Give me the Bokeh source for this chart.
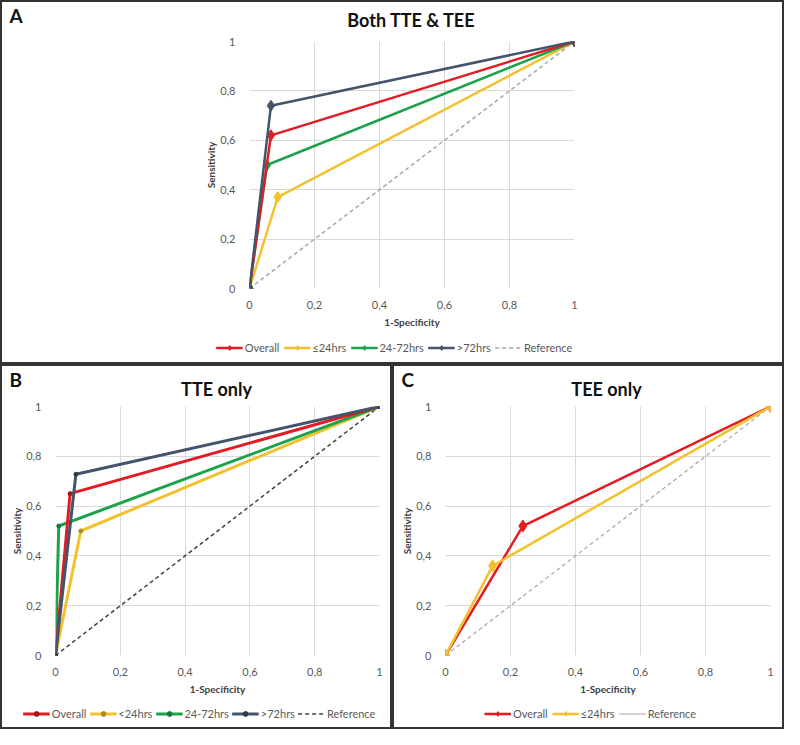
from bokeh.plotting import figure
from bokeh.layouts import column, row
from bokeh.models import (Range1d, FixedTicker, CustomJSTickFormatter, Legend,
                          LegendItem, Label)
from bokeh.embed import file_html
from bokeh.resources import INLINE

# ---------------- data ----------------
ticks = [0, 0.2, 0.4, 0.6, 0.8, 1.0]

# Panel A: Both TTE & TEE
a_overall_x = [0, 0.066, 1]
a_overall_y = [0, 0.62, 1]
a_le24_x = [0, 0.087, 1]
a_le24_y = [0, 0.37, 1]
a_h2472_x = [0, 0.054, 1]
a_h2472_y = [0, 0.50, 1]
a_gt72_x = [0, 0.066, 1]
a_gt72_y = [0, 0.74, 1]

# Panel B: TTE only
b_overall_x = [0, 0.045, 1]
b_overall_y = [0, 0.65, 1]
b_lt24_x = [0, 0.078, 1]
b_lt24_y = [0, 0.50, 1]
b_h2472_x = [0, 0.010, 1]
b_h2472_y = [0, 0.52, 1]
b_gt72_x = [0, 0.063, 1]
b_gt72_y = [0, 0.728, 1]

# Panel C: TEE only
c_overall_x = [0, 0.238, 1]
c_overall_y = [0, 0.52, 1]
c_le24_x = [0, 0.145, 1]
c_le24_y = [0, 0.36, 1]

ref_x = [0, 1]
ref_y = [0, 1]

RED = "#E31B23"
YEL = "#F2C12E"
GRN = "#1BA34B"
SLT = "#44546A"
FONT = "Lato"

fmt = CustomJSTickFormatter(code="""
  var v = Math.round(tick*10)/10;
  return v.toString().replace('.', ',');
""")

BORDER = ":host { outline: 2px solid #333333; outline-offset: -2px; }"


def clear(p):
    p.outline_line_color = None
    p.background_fill_alpha = 0
    p.border_fill_alpha = 0


def bare(width, height, ml=0, mr=0, xr=(0, 1)):
    p = figure(width=width, height=height, output_backend="svg", toolbar_location=None,
               x_axis_location=None, y_axis_location=None, min_border=0,
               min_border_left=ml, min_border_right=mr, frame_align=False,
               x_range=Range1d(*xr), y_range=Range1d(0, 1))
    p.grid.visible = False
    clear(p)
    return p


def header(width, height, title, letter, title_cx, title_cy, letter_cy):
    p = bare(width, height)
    p.add_layout(Label(x=title_cx, y=height - title_cy, x_units="screen", y_units="screen",
                       text=title, text_font=FONT, text_font_size="18px",
                       text_font_style="bold", text_color="#111111",
                       text_align="center", text_baseline="middle"))
    p.add_layout(Label(x=9, y=height - letter_cy, x_units="screen", y_units="screen",
                       text=letter, text_font=FONT, text_font_size="19px",
                       text_font_style="bold", text_color="#111111",
                       text_align="left", text_baseline="middle"))
    return p


def main(width, height, ml, mr, mt, mb):
    p = figure(width=width, height=height, output_backend="svg", toolbar_location=None,
               x_range=Range1d(0, 1), y_range=Range1d(0, 1), frame_align=False,
               min_border_left=ml, min_border_right=mr, min_border_top=mt,
               min_border_bottom=mb)
    clear(p)
    for ax in (p.xaxis[0], p.yaxis[0]):
        ax.ticker = FixedTicker(ticks=ticks)
        ax.formatter = fmt
        ax.axis_line_color = None
        ax.major_tick_line_color = None
        ax.minor_tick_line_color = None
        ax.major_label_text_font = FONT
        ax.major_label_text_font_size = "11px"
        ax.major_label_text_color = "#595959"
        ax.axis_label_text_font = FONT
        ax.axis_label_text_font_size = "10px"
        ax.axis_label_text_font_style = "bold"
        ax.axis_label_text_color = "#404040"
    p.xaxis[0].axis_label = "1-Specificity"
    p.xaxis[0].axis_label_standoff = 4
    p.xaxis[0].major_label_standoff = 6
    p.yaxis[0].axis_label = "Sensitivity"
    p.yaxis[0].axis_label_standoff = 0
    p.yaxis[0].major_label_standoff = 8
    for g in (p.xgrid[0], p.ygrid[0]):
        g.ticker = FixedTicker(ticks=ticks)
        g.grid_line_color = "#D9D9D9"
        g.grid_line_width = 1
    return p


def legend_fig(width, height, ml, entries, spacing):
    """entries: (label, xs, ys, color, line_width, dash, marker, marker_color, marker_size)
    The series are plotted outside the visible range; only their legend swatches show."""
    p = bare(width, height, ml=ml, xr=(2, 3))
    items = []
    for label, xs, ys, color, lw, dash, marker, mcolor, msize in entries:
        rs = [p.line(xs, ys, line_color=color, line_width=lw, line_dash=dash)]
        if marker is not None:
            rs.append(p.scatter(xs, ys, marker=marker, size=msize, color=mcolor))
        items.append(LegendItem(label=label, renderers=rs))
    lg = Legend(items=items, orientation="horizontal", location="center")
    lg.label_text_font = FONT
    lg.label_text_font_size = "11px"
    lg.label_text_color = "#595959"
    lg.glyph_width = 27
    lg.glyph_height = 12
    lg.label_standoff = 2
    lg.spacing = spacing
    lg.padding = 0
    lg.margin = 0
    lg.border_line_color = None
    lg.background_fill_alpha = 0
    p.add_layout(lg, "center")
    return p


# ---------------- Panel A ----------------
ha = header(784, 30, "Both TTE & TEE", "A", 411, 19.5, 14.5)
pa = main(784, 300, 249, 210, 11, 39)
pa.line(ref_x, ref_y, line_color="#A6A6A6", line_width=1.5, line_dash="4 3")
pa.line(a_le24_x, a_le24_y, line_color=YEL, line_width=2.5)
pa.scatter(a_le24_x, a_le24_y, marker="diamond", size=11, color=YEL)
pa.line(a_h2472_x, a_h2472_y, line_color=GRN, line_width=2.5)
pa.scatter(a_h2472_x, a_h2472_y, marker="diamond", size=11, color=GRN)
pa.line(a_overall_x, a_overall_y, line_color=RED, line_width=2.5)
pa.scatter(a_overall_x, a_overall_y, marker="diamond", size=11, color=RED)
pa.line(a_gt72_x, a_gt72_y, line_color=SLT, line_width=2.5)
pa.scatter(a_gt72_x, a_gt72_y, marker="diamond", size=11, color=SLT)
la = legend_fig(784, 34, 4, [
    ("Overall", a_overall_x, a_overall_y, RED, 2.5, "solid", "diamond", RED, 10),
    ("≤24hrs", a_le24_x, a_le24_y, YEL, 2.5, "solid", "diamond", YEL, 10),
    ("24-72hrs", a_h2472_x, a_h2472_y, GRN, 2.5, "solid", "diamond", GRN, 10),
    (">72hrs", a_gt72_x, a_gt72_y, SLT, 2.5, "solid", "diamond", SLT, 10),
    ("Reference", ref_x, ref_y, "#A6A6A6", 1.5, "4 3", None, None, None),
], 4)
panel_a = column(ha, pa, la, stylesheets=[BORDER])

# ---------------- Panel B ----------------
hb = header(392, 36, "TTE only", "B", 216, 24.5, 15)
pb = main(392, 297, 55, 13, 6, 42)
pb.line(ref_x, ref_y, line_color="#404040", line_width=1.5, line_dash="4 3")
pb.line(b_lt24_x, b_lt24_y, line_color=YEL, line_width=3)
pb.scatter(b_lt24_x, b_lt24_y, marker="circle", size=4, color="#B08A20")
pb.line(b_h2472_x, b_h2472_y, line_color=GRN, line_width=3)
pb.scatter(b_h2472_x, b_h2472_y, marker="circle", size=4, color="#137A38")
pb.line(b_overall_x, b_overall_y, line_color=RED, line_width=3)
pb.scatter(b_overall_x, b_overall_y, marker="circle", size=4, color="#A51218")
pb.line(b_gt72_x, b_gt72_y, line_color=SLT, line_width=3)
pb.scatter(b_gt72_x, b_gt72_y, marker="circle", size=4, color="#2E3A4A")
lb = legend_fig(392, 32, 6, [
    ("Overall", b_overall_x, b_overall_y, RED, 3, "solid", "circle", "#A51218", 4),
    ("<24hrs", b_lt24_x, b_lt24_y, YEL, 3, "solid", "circle", "#B08A20", 4),
    ("24-72hrs", b_h2472_x, b_h2472_y, GRN, 3, "solid", "circle", "#137A38", 4),
    (">72hrs", b_gt72_x, b_gt72_y, SLT, 3, "solid", "circle", "#2E3A4A", 4),
    ("Reference", ref_x, ref_y, "#404040", 1.5, "4 3", None, None, None),
], 3)
panel_b = column(hb, pb, lb, stylesheets=[BORDER])

# ---------------- Panel C ----------------
hc = header(392, 36, "TEE only", "C", 214, 24.5, 15)
pc = main(392, 297, 53, 14, 6, 42)
pc.line(ref_x, ref_y, line_color="#A6A6A6", line_width=1.2, line_dash="4 3")
pc.line(c_overall_x, c_overall_y, line_color=RED, line_width=2.5)
pc.scatter(c_overall_x, c_overall_y, marker="diamond", size=12, color=RED)
pc.line(c_le24_x, c_le24_y, line_color=YEL, line_width=2.5)
pc.scatter(c_le24_x, c_le24_y, marker="diamond", size=12, color=YEL)
lc = legend_fig(392, 32, 4, [
    ("Overall", c_overall_x, c_overall_y, RED, 2.5, "solid", "diamond", RED, 10),
    ("≤24hrs", c_le24_x, c_le24_y, YEL, 2.5, "solid", "diamond", YEL, 10),
    ("Reference", ref_x, ref_y, "#A6A6A6", 1, "solid", None, None, None),
], 4)
panel_c = column(hc, pc, lc, stylesheets=[BORDER])

layout = column(panel_a, row(panel_b, panel_c))
open("out.html", "w").write(file_html(layout, INLINE))
